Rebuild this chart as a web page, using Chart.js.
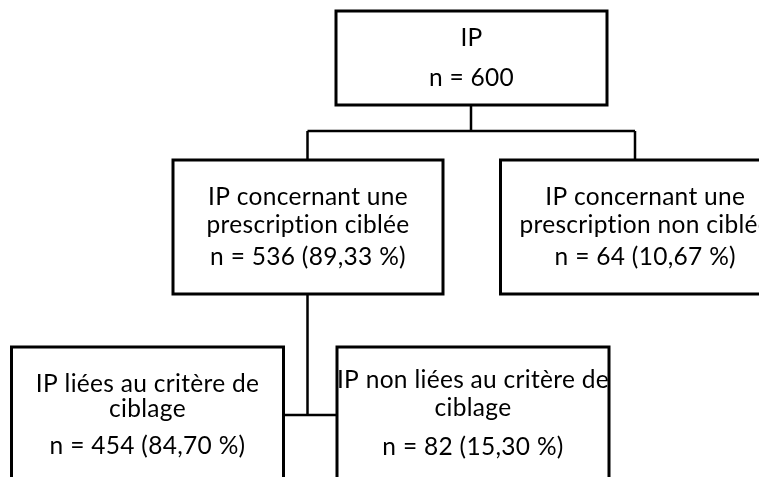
<!DOCTYPE html>
<html>
<head>
<meta charset="utf-8">
<script src="https://cdn.jsdelivr.net/npm/chart.js@4"></script>
<style>
body { margin: 0; background: #fff; }
</style>
</head>
<body>
<canvas id="flow" width="759" height="477"></canvas>
<script>
// node texts and values
var titles = [
	['IP'],
	['IP concernant une', 'prescription ciblée'],
	['IP concernant une', 'prescription non ciblée'],
	['IP liées au critère de', 'ciblage'],
	['IP non liées au critère de', 'ciblage']
];
var counts = [600, 536, 64, 454, 82];
var percents = [null, 89.33, 10.67, 84.70, 15.30];

// layout, in axis units (the axes run over the whole page)
var boxes = [
	{l: 336, r: 607, t: 11, b: 105, base: 46, gap: 27, countGap: 40},
	{l: 173, r: 443, t: 160, b: 294, base: 204.5, gap: 28, countGap: 32},
	{l: 500.5, r: 790, t: 160, b: 294, base: 204.5, gap: 28, countGap: 32},
	{l: 11.5, r: 283.5, t: 347, b: 540, base: 391.5, gap: 25, countGap: 37},
	{l: 337, r: 609, t: 347, b: 540, base: 388, gap: 28, countGap: 39}
];
var links = [
	[[471, 105], [471, 131]],
	[[307.5, 131], [635, 131]],
	[[307.5, 131], [307.5, 160]],
	[[635, 131], [635, 160]],
	[[307.5, 294], [307.5, 415]],
	[[283.5, 415], [337, 415]]
];

function countText(i){
	var s = 'n = ' + counts[i];
	if(percents[i] !== null){
		s += ' (' + percents[i].toFixed(2).replace('.', ',') + ' %)';
	}
	return s;
}

var datasets = [];
for(var i = 0; i < boxes.length; i++){
	var b = boxes[i];
	var mid = (b.l + b.r) / 2;
	datasets.push({
		data: [{x: mid, y: b.t}, {x: b.r, y: b.t}, {x: b.r, y: b.b}, {x: b.l, y: b.b}, {x: b.l, y: b.t}, {x: mid, y: b.t}],
		borderColor: '#000',
		borderWidth: 3,
		borderJoinStyle: 'miter',
		pointRadius: 0,
		showLine: true,
		fill: false
	});
}
for(var j = 0; j < links.length; j++){
	datasets.push({
		data: links[j].map(function(p){ return {x: p[0], y: p[1]}; }),
		borderColor: '#000',
		borderWidth: 2.5,
		pointRadius: 0,
		showLine: true,
		fill: false
	});
}

var boxText = {
	id: 'boxText',
	afterDatasetsDraw: function(chart){
		var ctx = chart.ctx;
		var xs = chart.scales.x, ys = chart.scales.y;
		ctx.save();
		ctx.fillStyle = '#000';
		ctx.font = '24.5px Lato';
		ctx.letterSpacing = '0.3px'; // also stops the "ti" ligature
		ctx.textAlign = 'center';
		ctx.textBaseline = 'alphabetic';
		for(var i = 0; i < boxes.length; i++){
			var b = boxes[i];
			var cx = xs.getPixelForValue((b.l + b.r) / 2);
			var y = b.base;
			for(var k = 0; k < titles[i].length; k++){
				ctx.fillText(titles[i][k], cx, ys.getPixelForValue(y));
				if(k < titles[i].length - 1) y += b.gap;
			}
			y += b.countGap;
			ctx.fillText(countText(i), cx, ys.getPixelForValue(y));
		}
		ctx.restore();
	}
};

var chart = new Chart(document.getElementById('flow'), {
	type: 'scatter',
	data: {datasets: datasets},
	options: {
		responsive: false,
		animation: false,
		events: [],
		layout: {padding: 0},
		plugins: {
			legend: {display: false},
			tooltip: {enabled: false}
		},
		scales: {
			x: {type: 'linear', min: 0, max: 759, display: false},
			y: {type: 'linear', min: 0, max: 477, reverse: true, display: false}
		}
	},
	plugins: [boxText]
});
</script>
</body>
</html>
